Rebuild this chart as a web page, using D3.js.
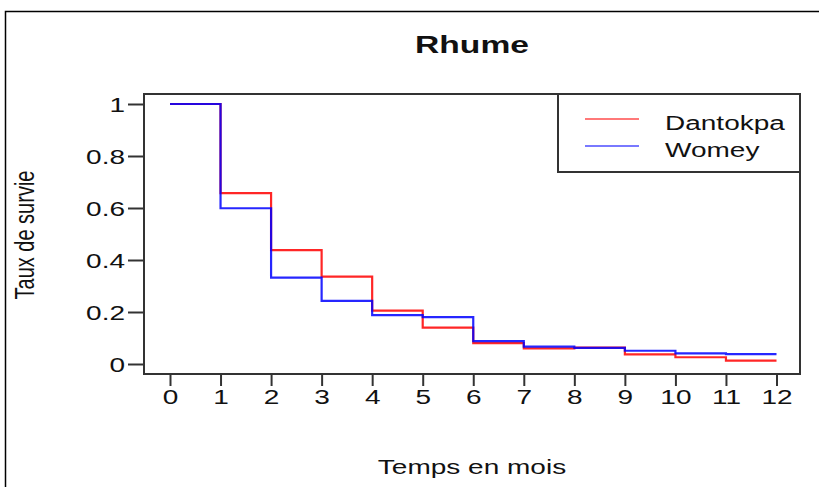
<!DOCTYPE html>
<html><head><meta charset="utf-8">
<script src="https://cdn.jsdelivr.net/npm/d3@7"></script>
<style>body{margin:0;background:#fff}svg{display:block}text{font-family:"Liberation Sans",Arial,sans-serif}</style>
</head><body><svg id="c" width="819" height="487"></svg>
<script>
const title = "Rhume";
const xLabel = "Temps en mois";
const yLabel = "Taux de survie";
const months = [0,1,2,3,4,5,6,7,8,9,10,11,12];
const seriesNames = ["Dantokpa","Womey"];
const seriesColors = ["#ff0000","#0000ff"];
// survival value on each interval [t, t+1)
const dantokpa = [1,0.657,0.438,0.336,0.205,0.14,0.08,0.06,0.063,0.037,0.026,0.013];
const womey    = [1,0.599,0.332,0.243,0.188,0.18,0.088,0.067,0.062,0.051,0.041,0.038];
const xTicks = [0,1,2,3,4,5,6,7,8,9,10,11,12];
const yTicks = [0,0.2,0.4,0.6,0.8,1];

const SX = 1.4; // horizontal stretch of glyphs
const svg = d3.select("#c");
const box = {l:144,t:94,r:800,b:374};
const x = d3.scaleLinear().domain([0,12]).range([170,776.5]);
const y = d3.scaleLinear().domain([0,1]).range([364,104]);

// outer frame
svg.append("path").attr("d","M5.5,487 V11.5 H819").attr("fill","none").attr("stroke","#000").attr("stroke-width",1.5);

function stext(xp, yp, str, opts){
  const t = svg.append("text").attr("transform",`translate(${xp},${yp}) scale(${SX},1)${opts.rot?" rotate(-90)":""}`)
    .attr("text-anchor",opts.anchor||"start").attr("font-size",opts.size||20).attr("fill","#111").text(str);
  if(opts.bold) t.attr("font-weight","bold");
  return t;
}
stext(472,53,title,{anchor:"middle",size:24,bold:true});
stext(472,474,xLabel,{anchor:"middle"});
stext(34,235,yLabel,{anchor:"middle",rot:true});

// series
const line = d3.line().x(d=>x(d[0])).y(d=>y(d[1])).curve(d3.curveStepAfter);
[dantokpa,womey].forEach((s,i)=>{
  const pts = months.map((m,k)=>[m, k<s.length ? s[k] : s[s.length-1]]);
  svg.append("path").attr("d",line(pts)).attr("fill","none").attr("stroke",seriesColors[i])
    .attr("stroke-width",2.2).attr("stroke-opacity",0.85);
});

// box
svg.append("rect").attr("x",box.l).attr("y",box.t).attr("width",box.r-box.l).attr("height",box.b-box.t)
  .attr("fill","none").attr("stroke","#333").attr("stroke-width",2);

// axes
const gx = svg.append("g").attr("transform",`translate(0,${box.b})`)
  .call(d3.axisBottom(x).tickValues(xTicks).tickSize(12).tickPadding(6).tickFormat(d3.format("d")));
gx.select(".domain").remove();
gx.selectAll("line").attr("stroke","#333").attr("stroke-width",2);
gx.selectAll("text").attr("font-size",20).attr("fill","#111").attr("font-family","Liberation Sans, Arial, sans-serif")
  .attr("y",30).attr("dy",0).attr("transform",`scale(${SX},1)`);

const gy = svg.append("g").attr("transform",`translate(${box.l},0)`)
  .call(d3.axisLeft(y).tickValues(yTicks).tickSize(16).tickFormat(d=> (d===0||d===1)? String(d) : d.toFixed(1)));
gy.select(".domain").remove();
gy.selectAll("line").attr("stroke","#333").attr("stroke-width",2);
gy.selectAll("text").attr("font-size",20).attr("fill","#111").attr("font-family","Liberation Sans, Arial, sans-serif")
  .attr("x",-19/SX).attr("dy","0.36em").attr("transform",`scale(${SX},1)`);

// legend
const lg = {l:558,t:94,r:800,b:172};
svg.append("rect").attr("x",lg.l).attr("y",lg.t).attr("width",lg.r-lg.l).attr("height",lg.b-lg.t)
  .attr("fill","#fff").attr("stroke","#333").attr("stroke-width",2);
const legY = d3.scalePoint().domain(seriesNames).range([119,146]);
seriesNames.forEach((n,i)=>{
  svg.append("line").attr("x1",585).attr("x2",639).attr("y1",legY(n)).attr("y2",legY(n))
    .attr("stroke",seriesColors[i]).attr("stroke-width",1.4).attr("stroke-opacity",0.7);
  stext(665,legY(n)+11,n,{});
});
</script></body></html>
